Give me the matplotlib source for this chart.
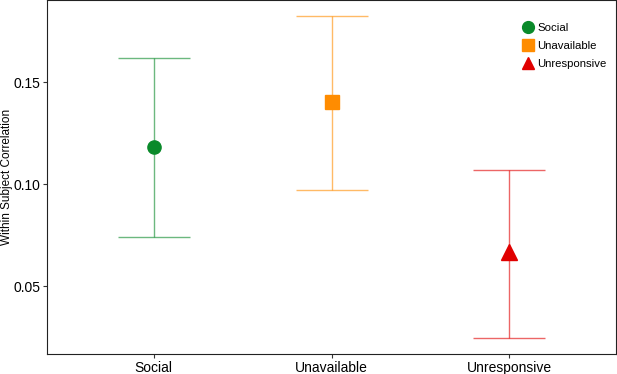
import numpy as np
import matplotlib.pyplot as plt
from matplotlib.lines import Line2D

plt.rcParams['font.family'] = ['Liberation Sans', 'DejaVu Sans']

CATEGORIES = ["Social", "Unavailable", "Unresponsive"]
MEANS = [0.118, 0.1402, 0.0667]
LOWER = [0.0739, 0.0971, 0.0245]
UPPER = [0.1616, 0.1824, 0.1069]
COLORS = ["#0A8A2A", "#FF8C00", "#E00000"]
MARKERS = ["o", "s", "^"]
MSIZES = [9.5, 9.5, 12]


def main():
    fig = plt.figure(figsize=(6.17, 3.74), dpi=100)
    ax = fig.add_axes([47 / 617, 20 / 374, 569 / 617, 354 / 374])
    x = np.arange(len(CATEGORIES))
    for i, cat in enumerate(CATEGORIES):
        ax.errorbar(x[i], MEANS[i],
                    yerr=[[MEANS[i] - LOWER[i]], [UPPER[i] - MEANS[i]]],
                    fmt="none", ecolor=COLORS[i], alpha=0.6, elinewidth=1,
                    capsize=26, capthick=1)
        ax.plot(x[i], MEANS[i], marker=MARKERS[i], color=COLORS[i],
                markersize=MSIZES[i], linestyle="none")

    ax.set_xlim(-0.6, 2.6)
    ax.set_ylim(0.0167, 0.1902)
    ax.set_xticks(x)
    ax.set_xticklabels(CATEGORIES, fontsize=10)
    ax.set_yticks([0.05, 0.10, 0.15])
    ax.set_yticklabels(["0.05", "0.10", "0.15"], fontsize=10)
    ax.set_ylabel("Within Subject Correlation", fontsize=8.5)
    ax.yaxis.set_label_coords(-0.06, 0.5)
    ax.tick_params(length=3, color="#333333", pad=2)
    for s in ax.spines.values():
        s.set_color("#222222")

    handles = [Line2D([], [], marker=m, color=c, linestyle="none", markersize=8.5)
               for m, c in zip(MARKERS, COLORS)]
    ax.legend(handles, CATEGORIES, loc="upper left", frameon=False,
              fontsize=8.2, handletextpad=0.25, labelspacing=0.7,
              bbox_to_anchor=(0.815, 0.965), handlelength=1.2)

    fig.savefig("out.png", dpi=100)


if __name__ == '__main__':
    main()
